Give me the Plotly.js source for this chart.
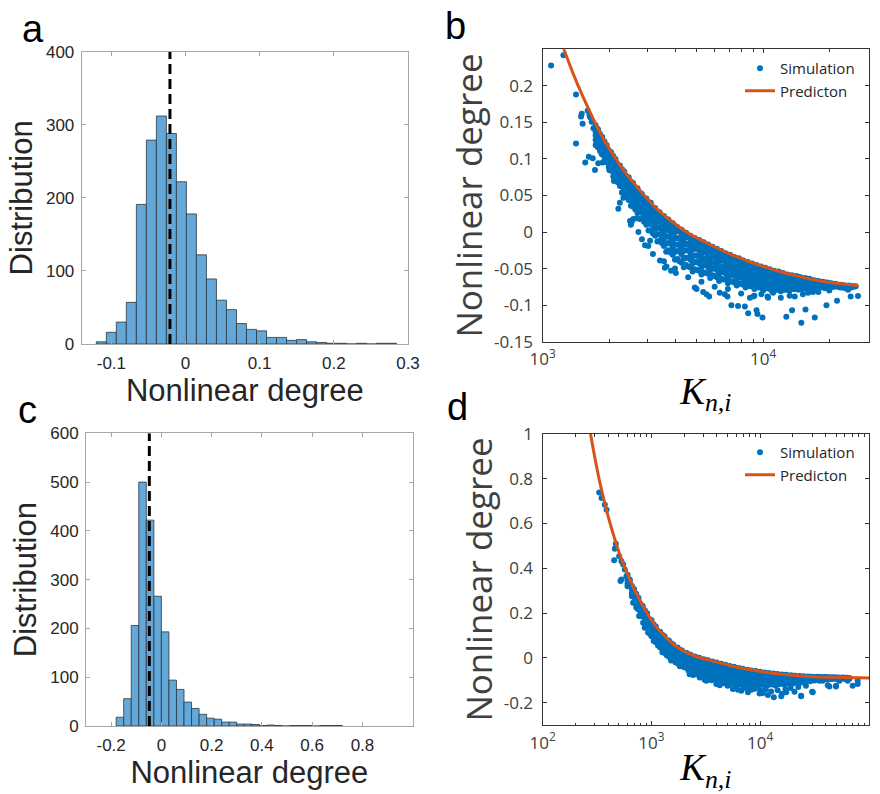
<!DOCTYPE html>
<html><head><meta charset="utf-8">
<script src="https://cdn.plot.ly/plotly-3.0.1.min.js"></script>
<style>html,body{margin:0;padding:0;background:#fff;} #chart{width:880px;height:794px;}</style>
</head><body><div id="chart"></div>
<script>
// ---------- Panel a : histogram ----------
const histA_start = -0.1203;
const histA_width = 0.0135;
const histA_counts = [3,16,30,57,191,279,312,288,222,178,122,89,60,47,28,20,18,9,9,5,6,3,2,1,1,0,1,0,1,1];
const meanA = -0.021;
const histA_xticks = [-0.1,0,0.1,0.2,0.3];
const histA_xticktext = ['-0.1','0','0.1','0.2','0.3'];

// ---------- Panel c : histogram ----------
const histC_start = -0.18;
const histC_width = 0.03;
const histC_counts = [18,56,206,500,422,266,193,94,75,49,36,24,16,14,8,8,4,4,3,1,2,1,0,1,1,1,0,1,1,1];
const meanC = -0.048;
const histC_xticks = [-0.2,0,0.2,0.4,0.6,0.8];
const histC_xticktext = ['-0.2','0','0.2','0.4','0.6','0.8'];

// ---------- Panel b : prediction (log10 K, value) ----------
const predB_log10K = [3.094,3.139,3.177,3.215,3.252,3.290,3.328,3.366,3.441,3.517,3.592,3.668,3.758,3.849,3.924,4.000,4.075,4.151,4.226,4.302,4.377,4.430];
const predB_val    = [0.252,0.216,0.189,0.164,0.141,0.120,0.102,0.085,0.057,0.032,0.013,-0.003,-0.017,-0.030,-0.039,-0.047,-0.054,-0.060,-0.065,-0.069,-0.0715,-0.0735];

// ---------- Panel b : simulation points, read column by column [log10K, values...] ----------
const simB_band = [
[3.24,[.146,.141,.137,.132,.126,.119]],[3.26,[.134,.128,.123,.118,.111]],
[3.28,[.124,.120,.115,.110,.104,.098]],[3.30,[.112,.106,.101,.096,.089]],
[3.32,[.104,.099,.094,.089,.083,.076]],[3.34,[.092,.086,.081,.075,.068]],
[3.36,[.086,.080,.075,.069,.062,.054]],[3.38,[.076,.069,.063,.057,.048]],
[3.40,[.069,.064,.058,.052,.044,.036]],[3.42,[.060,.053,.047,.040,.031]],
[3.44,[.054,.048,.042,.035,.027,.018]],[3.46,[.045,.038,.031,.023,.014]],
[3.48,[.041,.035,.028,.020,.012,.002]],[3.50,[.033,.024,.017,.009,-.002]],
[3.52,[.028,.021,.014,.006,-.003,-.013]],[3.54,[.020,.012,.004,-.005,-.015]],
[3.56,[.018,.010,.002,-.006,-.016,-.027]],[3.58,[.010,.001,-.008,-.016,-.028]],
[3.60,[.007,.000,-.008,-.017,-.027,-.038]],[3.62,[.001,-.009,-.018,-.027,-.040]],
[3.64,[-.001,-.009,-.017,-.026,-.037,-.048]],[3.66,[-.007,-.017,-.025,-.035,-.047]],
[3.68,[-.009,-.016,-.024,-.033,-.043,-.054]],[3.70,[-.014,-.023,-.032,-.041,-.052]],
[3.72,[-.014,-.022,-.030,-.038,-.048,-.058]],[3.74,[-.020,-.028,-.037,-.045,-.056]],
[3.76,[-.020,-.027,-.035,-.043,-.052,-.063]],[3.78,[-.026,-.034,-.042,-.050,-.060]],
[3.80,[-.026,-.033,-.040,-.048,-.057,-.067]],[3.82,[-.031,-.039,-.047,-.055,-.065]],
[3.84,[-.032,-.038,-.045,-.052,-.060,-.070]],[3.86,[-.036,-.044,-.051,-.058,-.068]],
[3.88,[-.037,-.043,-.049,-.056,-.064,-.073]],[3.90,[-.041,-.048,-.055,-.062,-.071]],
[3.92,[-.042,-.047,-.053,-.060,-.067,-.076]],[3.94,[-.045,-.052,-.058,-.065,-.074]],
[3.96,[-.046,-.051,-.057,-.063,-.070,-.078]],[3.98,[-.049,-.056,-.061,-.068,-.076]],
[4.00,[-.050,-.054,-.060,-.066,-.072,-.080]],[4.02,[-.053,-.059,-.064,-.070,-.077]],
[4.04,[-.053,-.058,-.063,-.068,-.074,-.081]],[4.06,[-.056,-.062,-.067,-.072,-.079]],
[4.08,[-.056,-.060,-.065,-.069,-.075,-.081]],[4.10,[-.059,-.064,-.068,-.073,-.079]],
[4.12,[-.060,-.063,-.067,-.071,-.075,-.080]],[4.14,[-.062,-.066,-.069,-.073,-.078]],
[4.16,[-.061,-.064,-.068,-.071,-.075,-.079]],[4.18,[-.064,-.067,-.070,-.074,-.078]],
[4.20,[-.064,-.067,-.069,-.072,-.075,-.078]],[4.22,[-.066,-.068,-.071,-.073,-.076]],
[4.24,[-.067,-.069,-.071,-.073,-.075,-.078]],[4.26,[-.068,-.070,-.072,-.074,-.076]],
[4.28,[-.069,-.070,-.071,-.073,-.075,-.077]],[4.30,[-.070,-.071,-.072,-.074,-.076]],
[4.32,[-.071,-.072,-.073,-.075]],[4.34,[-.072,-.073,-.075]],
[4.36,[-.073,-.074,-.076]],[4.38,[-.074,-.075]],[4.40,[-.074,-.076]]
];
const simB_band2 = [
[3.25,[.141,.138,.133,.128,.122,.116]],[3.27,[.130,.127,.122,.117,.112,.106]],[3.29,[.119,.116,.111,.106,.101,.095]],
[3.31,[.109,.106,.101,.096,.090,.084]],[3.33,[.100,.096,.091,.085,.080,.073]],[3.35,[.091,.087,.081,.075,.069,.063]],
[3.37,[.083,.078,.073,.066,.060,.053]],[3.39,[.075,.070,.064,.058,.051,.044]],[3.41,[.067,.062,.056,.049,.043,.035]],
[3.43,[.060,.055,.048,.041,.034,.026]],[3.45,[.052,.047,.040,.033,.026,.018]],[3.47,[.046,.040,.034,.026,.018,.010]],
[3.49,[.040,.034,.027,.019,.011,.002]],[3.51,[.033,.027,.020,.012,.004,-.005]],[3.53,[.027,.021,.014,.006,-.003,-.012]],
[3.55,[.022,.016,.008,.000,-.009,-.019]],[3.57,[.017,.011,.003,-.006,-.015,-.025]],[3.59,[.012,.005,-.003,-.012,-.021,-.031]],
[3.61,[.007,.001,-.008,-.017,-.026,-.037]],[3.63,[.003,-.003,-.012,-.022,-.031,-.042]],[3.65,[-.001,-.007,-.016,-.025,-.035,-.045]],
[3.67,[-.005,-.011,-.019,-.029,-.038,-.048]],[3.69,[-.008,-.015,-.023,-.032,-.041,-.051]],[3.71,[-.011,-.018,-.025,-.034,-.043,-.053]],
[3.73,[-.014,-.020,-.028,-.037,-.045,-.055]],[3.75,[-.017,-.023,-.031,-.039,-.048,-.057]],[3.77,[-.020,-.026,-.033,-.042,-.050,-.059]],
[3.79,[-.023,-.029,-.036,-.044,-.052,-.062]],[3.81,[-.026,-.032,-.039,-.047,-.055,-.064]],[3.83,[-.029,-.034,-.041,-.049,-.057,-.065]],
[3.85,[-.031,-.037,-.043,-.051,-.059,-.067]],[3.87,[-.034,-.039,-.046,-.053,-.060,-.069]],[3.89,[-.036,-.041,-.048,-.055,-.062,-.070]],
[3.91,[-.039,-.044,-.050,-.057,-.064,-.072]],[3.93,[-.041,-.046,-.052,-.059,-.066,-.073]],[3.95,[-.043,-.048,-.054,-.060,-.067,-.074]],
[3.97,[-.045,-.050,-.055,-.062,-.068,-.075]],[3.99,[-.047,-.052,-.057,-.063,-.069,-.076]],[4.01,[-.049,-.053,-.059,-.065,-.070,-.077]],
[4.03,[-.051,-.055,-.060,-.066,-.071,-.078]],[4.05,[-.053,-.057,-.062,-.067,-.072,-.078]],[4.07,[-.054,-.058,-.063,-.068,-.073,-.079]],
[4.09,[-.056,-.059,-.064,-.069,-.073,-.079]],[4.11,[-.058,-.061,-.065,-.069,-.074,-.079]],[4.13,[-.059,-.062,-.066,-.070,-.074,-.078]],
[4.15,[-.060,-.063,-.066,-.070,-.074,-.078]],[4.17,[-.062,-.064,-.067,-.071,-.074,-.078]],[4.19,[-.063,-.065,-.068,-.071,-.074,-.077]],
[4.21,[-.064,-.066,-.068,-.071,-.074,-.077]],[4.23,[-.066,-.067,-.069,-.072,-.074,-.076]],[4.25,[-.067,-.068,-.070,-.072]],
[4.27,[-.068,-.069,-.071,-.073]],[4.29,[-.069,-.070,-.072]],[4.31,[-.070,-.071,-.073]],
[4.33,[-.071,-.072,-.074]],[4.35,[-.072,-.073]],[4.37,[-.073,-.074]],[4.39,[-.073,-.075]],
[4.41,[-.074,-.075]],[4.42,[-.074]]
];
const simB_sparse = [
[3.038,0.228],[3.094,0.242],[3.151,0.188],[3.151,0.121],[3.177,0.162],[3.174,0.158],[3.181,0.148],
[3.204,0.166],[3.212,0.160],[3.215,0.157],[3.222,0.151],[3.230,0.142],[3.193,0.095],[3.209,0.103],
[3.227,0.101],[3.237,0.085],[3.252,0.138],[3.263,0.131],[3.242,0.119],[3.260,0.120],[3.275,0.121],
[3.252,0.094],[3.272,0.095],[3.267,0.107],[3.283,0.111],[3.290,0.113],[3.302,0.085],[3.305,0.100],
[3.317,0.095],[3.328,0.091],[3.323,0.070],[3.343,0.032],[3.360,0.054],[3.366,0.047],[3.380,0.070],
[3.388,0.061],[3.396,0.015],[3.404,0.014],[3.411,0.018],[3.426,0.019],[3.434,0.000],[3.464,-0.018],
[3.479,-0.019],[3.487,-0.012],[3.532,-0.039],[3.554,-0.049],[3.561,-0.047],[3.582,-0.053],[3.604,-0.056],
[3.690,-0.076],[3.698,-0.078],[3.728,-0.082],[3.743,-0.085],[3.755,-0.088],[3.803,-0.083],[3.826,-0.085],
[3.838,-0.088],[3.856,-0.100],[3.886,-0.101],[3.917,-0.102],[3.932,-0.111],[3.970,-0.107],[3.974,-0.112],
[3.997,-0.117],[3.940,-0.090],[3.955,-0.088],[3.992,-0.085],[4.022,-0.090],[4.045,-0.083],[4.105,-0.116],
[4.131,-0.107],[4.143,-0.088],[4.173,-0.124],[4.192,-0.106],[4.204,-0.083],[4.226,-0.082],[4.234,-0.117],
[4.287,-0.100],[4.335,-0.094],[4.373,-0.077],[4.385,-0.079],[4.397,-0.088],[4.430,-0.0875],[4.255,-0.075],
[4.278,-0.075],[4.301,-0.076],[4.316,-0.075],[4.350,-0.076],[4.360,-0.073],
[3.66,-0.062],[3.72,-0.068],[3.78,-0.075],[3.84,-0.078],[3.90,-0.084],[3.96,-0.087],[4.02,-0.088],
[4.08,-0.090],[4.12,-0.087],[4.18,-0.085],[4.25,-0.082],[4.30,-0.080],[3.60,-0.050],[3.55,-0.040],
[3.50,-0.030],[3.45,-0.010],[3.40,0.010],[3.35,0.040]
];

// ---------- Panel d : prediction ----------
const predD_log10K = [2.440,2.480,2.525,2.571,2.617,2.663,2.709,2.770,2.831,2.892,2.954,3.030,3.107,3.198,3.290,3.412,3.565,3.720,3.872,4.020,4.177,4.330,4.483,4.700,5.000];
const predD_val    = [1.000,0.893,0.785,0.690,0.605,0.530,0.462,0.385,0.318,0.259,0.205,0.148,0.104,0.062,0.032,0.006,-0.014,-0.034,-0.050,-0.062,-0.072,-0.079,-0.084,-0.087,-0.090];

// ---------- Panel d : simulation points ----------
const simD_band = [
[2.78,[.371,.358,.344,.331,.320]],[2.82,[.321,.305,.289,.275]],
[2.86,[.286,.270,.254,.238,.225]],[2.90,[.241,.222,.203,.186]],
[2.94,[.212,.194,.175,.155,.140]],[2.98,[.173,.151,.131,.111]],
[3.02,[.150,.131,.111,.091,.075]],[3.06,[.118,.096,.074,.055]],
[3.10,[.103,.083,.062,.042,.025]],[3.14,[.076,.053,.032,.012]],
[3.18,[.065,.045,.025,.004,-.012]],[3.22,[.043,.021,.000,-.020]],
[3.26,[.036,.017,-.002,-.022,-.038]],[3.30,[.018,-.003,-.023,-.042]],
[3.34,[.016,-.002,-.021,-.041,-.056]],[3.38,[.001,-.020,-.040,-.058]],
[3.42,[.000,-.018,-.037,-.056,-.071]],[3.46,[-.013,-.033,-.053,-.072]],
[3.50,[-.011,-.029,-.049,-.068,-.084]],[3.54,[-.023,-.044,-.065,-.084]],
[3.58,[-.021,-.040,-.059,-.079,-.095]],[3.62,[-.033,-.054,-.075,-.094]],
[3.66,[-.031,-.050,-.069,-.089,-.105]],[3.70,[-.043,-.064,-.084,-.103]],
[3.74,[-.041,-.059,-.078,-.098,-.113]],[3.78,[-.051,-.072,-.092,-.110]],
[3.82,[-.049,-.067,-.086,-.104,-.119]],[3.86,[-.060,-.079,-.098,-.115]],
[3.90,[-.056,-.073,-.091,-.109,-.123]],[3.94,[-.065,-.084,-.102,-.118]],
[3.98,[-.063,-.079,-.095,-.112,-.125]],[4.02,[-.071,-.088,-.105,-.120]],
[4.06,[-.069,-.083,-.098,-.113,-.125]],[4.10,[-.076,-.091,-.106,-.119]],
[4.14,[-.073,-.086,-.099,-.112,-.123]],[4.18,[-.079,-.093,-.105,-.117]],
[4.22,[-.077,-.088,-.099,-.110,-.119]],[4.26,[-.082,-.093,-.104,-.114]],
[4.30,[-.080,-.089,-.098,-.108,-.115]],[4.34,[-.084,-.093,-.101,-.109]],
[4.38,[-.083,-.090,-.097,-.104,-.110]],[4.42,[-.086,-.093,-.099,-.105]],
[4.46,[-.084,-.090,-.095,-.100,-.105]],[4.50,[-.087,-.092,-.096,-.101]],
[4.54,[-.086,-.089,-.093,-.097,-.100]],[4.58,[-.087,-.091,-.094,-.097]],
[4.62,[-.087,-.090,-.092,-.095,-.097]],[4.66,[-.088,-.090,-.093,-.095]],
[4.70,[-.088,-.090,-.093,-.095]],[4.74,[-.089,-.092,-.094]],
[4.78,[-.089,-.092,-.094]],[4.82,[-.090,-.093]]
];
const simD_band2 = [
[2.80,[.350,.342,.331,.321]],[2.84,[.308,.299,.287,.276]],[2.88,[.269,.259,.246,.233]],
[2.92,[.232,.221,.208,.194]],[2.96,[.199,.187,.173,.158]],[3.00,[.168,.156,.141,.126,.112,.098]],
[3.04,[.140,.128,.113,.098,.084,.070]],[3.08,[.117,.104,.089,.074,.060,.046]],[3.12,[.096,.083,.068,.052,.038,.023]],
[3.16,[.077,.064,.049,.034,.020,.005]],[3.20,[.060,.048,.033,.018,.004,-.011]],[3.24,[.046,.034,.019,.004,-.010,-.024]],
[3.28,[.033,.021,.007,-.008,-.021,-.035]],[3.32,[.023,.012,-.002,-.017,-.030,-.044]],[3.36,[.014,.003,-.011,-.026,-.039,-.052]],
[3.40,[.006,-.005,-.019,-.033,-.046,-.060]],[3.44,[.000,-.012,-.026,-.040,-.053,-.067]],[3.48,[-.006,-.017,-.031,-.046,-.059,-.073]],
[3.52,[-.011,-.023,-.037,-.052,-.065,-.079]],[3.56,[-.016,-.028,-.042,-.057,-.070,-.085]],[3.60,[-.021,-.033,-.047,-.062,-.075,-.090]],
[3.64,[-.026,-.038,-.052,-.067,-.080,-.095]],[3.68,[-.031,-.043,-.057,-.072,-.085,-.099]],[3.72,[-.036,-.047,-.061,-.076,-.089,-.103]],
[3.76,[-.040,-.052,-.066,-.080,-.093,-.107]],[3.80,[-.045,-.056,-.070,-.084,-.097,-.110]],[3.84,[-.049,-.060,-.073,-.087,-.100,-.113]],
[3.88,[-.053,-.063,-.076,-.090,-.102,-.115]],[3.92,[-.056,-.066,-.079,-.092,-.104,-.117]],[3.96,[-.059,-.069,-.081,-.094,-.106,-.118]],
[4.00,[-.062,-.072,-.084,-.096,-.107,-.119]],[4.04,[-.065,-.075,-.086,-.097,-.108,-.119]],[4.08,[-.068,-.077,-.087,-.098,-.108,-.119]],
[4.12,[-.070,-.078,-.088,-.099,-.108,-.118]],[4.16,[-.072,-.080,-.089,-.099,-.108,-.117]],[4.20,[-.074,-.081,-.090,-.099,-.107,-.115]],
[4.24,[-.076,-.083,-.090,-.099,-.106,-.114]],[4.28,[-.078,-.084,-.091,-.098,-.105,-.112]],[4.32,[-.080,-.085,-.091,-.098,-.104,-.110]],
[4.36,[-.081,-.086,-.091,-.097,-.102,-.108]],[4.40,[-.082,-.086,-.091,-.096,-.101,-.106]],[4.44,[-.083,-.087,-.091,-.095]],
[4.48,[-.084,-.087,-.090,-.094]],[4.52,[-.085,-.088,-.091]],[4.56,[-.086,-.088,-.091]],
[4.60,[-.086,-.088,-.091]],[4.64,[-.087,-.089]],[4.68,[-.087,-.089]],[4.72,[-.088,-.090]],
[4.76,[-.088,-.090]],[4.80,[-.089,-.091]]
];
const simD_sparse = [
[2.519,0.739],[2.541,0.714],[2.571,0.684],[2.587,0.662],[2.672,0.510],[2.663,0.487],[2.657,0.436],
[2.703,0.454],[2.724,0.432],[2.740,0.417],[2.755,0.395],[2.715,0.343],[2.724,0.350],[2.770,0.365],
[2.785,0.343],[2.801,0.328],[2.831,0.246],[2.847,0.254],[2.877,0.217],[2.886,0.187],[2.908,0.209],
[2.923,0.157],[2.938,0.135],[2.969,0.113],[3.000,0.098],[3.076,0.056],[3.091,0.053],[3.131,0.021],
[3.259,-0.028],[3.275,-0.033],[3.351,-0.073],[3.382,-0.077],[3.443,-0.088],[3.489,-0.098],
[3.291,-0.033],[3.367,-0.058],[3.398,-0.073],[3.459,-0.087],[3.505,-0.102],[3.596,-0.117],[3.627,-0.122],
[3.658,-0.113],[3.749,-0.139],[3.795,-0.142],[3.826,-0.147],[3.887,-0.154],[3.918,-0.142],[3.994,-0.159],
[4.024,-0.157],[4.070,-0.166],[4.125,-0.176],[4.193,-0.172],[4.232,-0.139],[4.239,-0.154],[4.315,-0.151],
[4.376,-0.172],[4.477,-0.151],[4.575,-0.102],[4.636,-0.128],[4.697,-0.128],[4.728,-0.102],[4.804,-0.102],
[4.850,-0.125],[4.896,-0.102],[4.896,-0.117],[4.804,-0.095],[4.697,-0.125],[4.621,-0.122],[4.544,-0.102],
[4.483,-0.154],[4.376,-0.169],
[3.70,-0.125],[3.72,-0.118],[3.78,-0.128],[3.85,-0.135],[3.90,-0.140],[3.95,-0.138],[4.00,-0.145],
[4.05,-0.140],[4.10,-0.150],[4.16,-0.145],[4.20,-0.160],[4.28,-0.135],[4.35,-0.130],[4.42,-0.125],
[3.60,-0.108],[3.55,-0.100],[3.45,-0.082],[3.40,-0.068]
];

// ---------- helpers ----------
function flatten(bands, sparse){
  const xs=[], ys=[];
  bands.forEach(band => band.forEach(([L, vals]) => vals.forEach(v => { xs.push(Math.pow(10, L)); ys.push(v); })));
  sparse.forEach(([L, v]) => { xs.push(Math.pow(10, L)); ys.push(v); });
  return {xs, ys};
}
const toK = arr => arr.map(L => Math.pow(10, L));
const centers = (start, w, n) => Array.from({length:n}, (_, i) => start + w*(i+0.5));

const simB = flatten([simB_band, simB_band2], simB_sparse);
const simD = flatten([simD_band, simD_band2], simD_sparse);

const BLUE = '#0072BD', ORANGE = '#D95319', HIST = '#63A8D8';

const traces = [
  {type:'bar', x:centers(histA_start, histA_width, histA_counts.length), y:histA_counts, width:histA_width,
   marker:{color:HIST, line:{color:'#2b3640', width:0.8}}, xaxis:'x', yaxis:'y', showlegend:false, hoverinfo:'skip'},
  {type:'scatter', mode:'lines', x:[meanA, meanA], y:[0, 400], line:{color:'#000', width:3, dash:'10px,5px'},
   xaxis:'x', yaxis:'y', showlegend:false},
  {type:'scatter', mode:'markers', name:'Simulation', x:simB.xs, y:simB.ys, marker:{color:BLUE, size:6},
   xaxis:'x2', yaxis:'y2', legend:'legend'},
  {type:'scatter', mode:'lines', name:'Predicton', x:toK(predB_log10K), y:predB_val, line:{color:ORANGE, width:3, shape:'spline'},
   xaxis:'x2', yaxis:'y2', legend:'legend'},
  {type:'bar', x:centers(histC_start, histC_width, histC_counts.length), y:histC_counts, width:histC_width,
   marker:{color:HIST, line:{color:'#2b3640', width:0.8}}, xaxis:'x3', yaxis:'y3', showlegend:false, hoverinfo:'skip'},
  {type:'scatter', mode:'lines', x:[meanC, meanC], y:[0, 600], line:{color:'#000', width:3, dash:'10px,5px'},
   xaxis:'x3', yaxis:'y3', showlegend:false},
  {type:'scatter', mode:'markers', name:'Simulation', x:simD.xs, y:simD.ys, marker:{color:BLUE, size:6},
   xaxis:'x4', yaxis:'y4', legend:'legend2'},
  {type:'scatter', mode:'lines', name:'Predicton', x:toK(predD_log10K), y:predD_val, line:{color:ORANGE, width:3, shape:'spline'},
   xaxis:'x4', yaxis:'y4', legend:'legend2'}
];

const W = 880, H = 794;
const px = v => v / W, py = v => 1 - v / H;

const histTick = {family:'Liberation Sans, Arial, sans-serif', size:17, color:'#262626'};
const histTitle = {family:'Liberation Sans, Arial, sans-serif', size:31, color:'#262626'};
const scTick = {family:'Open Sans, sans-serif', size:17, color:'#404040'};
const scTitle = {family:'Open Sans, sans-serif', size:35, color:'#404040'};
const kTitle = {family:'Liberation Serif, DejaVu Serif, serif', size:37, color:'#000'};

const histAxis = {showline:true, mirror:'ticks', linecolor:'#a6a6a6', linewidth:1, ticks:'inside', ticklen:4,
  tickcolor:'#a6a6a6', showgrid:false, zeroline:false, tickfont:histTick, fixedrange:true};
const scAxis = {showline:true, mirror:'ticks', linecolor:'#333', linewidth:1.2, ticks:'inside', ticklen:4,
  tickcolor:'#333', showgrid:false, zeroline:false, tickfont:scTick, fixedrange:true};

const minorB = [2000,3000,4000,5000,6000,7000,8000,9000,20000,30000];
const minorD = [200,300,400,500,600,700,800,900,2000,3000,4000,5000,6000,7000,8000,9000,20000,30000,40000,50000,60000,70000,80000,90000];

const layout = {
  width:W, height:H, margin:{l:0,r:0,t:0,b:0}, paper_bgcolor:'#fff', plot_bgcolor:'#fff',
  xaxis:Object.assign({}, histAxis, {domain:[px(81.7), px(408)], range:[-0.14, 0.3], anchor:'y',
    tickvals:histA_xticks, ticktext:histA_xticktext, ticklabelstandoff:4,
    title:{text:'Nonlinear degree', font:histTitle, standoff:6}}),
  yaxis:Object.assign({}, histAxis, {domain:[py(344), py(51.7)], range:[0, 400], anchor:'x', dtick:100,
    ticklabelstandoff:3, title:{text:'Distribution', font:histTitle, standoff:4}}),
  xaxis2:Object.assign({}, scAxis, {domain:[px(542.7), px(869)], type:'log', range:[3, 4.48], anchor:'y2',
    tickvals:[1000,10000], ticktext:['10<sup>3</sup>','10<sup>4</sup>'], ticklabelstandoff:2,
    minor:{tickmode:'array', tickvals:minorB, ticks:'inside', ticklen:2.5, tickcolor:'#333'},
    title:{text:'<i>K</i><sub><i>n,i</i></sub>', font:kTitle, standoff:8}}),
  yaxis2:Object.assign({}, scAxis, {domain:[py(341.7), py(49.3)], range:[-0.15, 0.25], anchor:'x2',
    tickvals:[-0.15,-0.1,-0.05,0,0.05,0.1,0.15,0.2], ticktext:['-0.15','-0.1','-0.05','0','0.05','0.1','0.15','0.2'],
    ticklabelstandoff:5, title:{text:'Nonlinear degree', font:scTitle, standoff:0}}),
  xaxis3:Object.assign({}, histAxis, {domain:[px(86), px(412.7)], range:[-0.3, 1.0], anchor:'y3',
    tickvals:histC_xticks, ticktext:histC_xticktext, ticklabelstandoff:4,
    title:{text:'Nonlinear degree', font:histTitle, standoff:6}}),
  yaxis3:Object.assign({}, histAxis, {domain:[py(726), py(433.3)], range:[0, 600], anchor:'x3', dtick:100,
    ticklabelstandoff:3, title:{text:'Distribution', font:histTitle, standoff:4}}),
  xaxis4:Object.assign({}, scAxis, {domain:[px(542.7), px(869)], type:'log', range:[2, 5], anchor:'y4',
    tickvals:[100,1000,10000,100000], ticktext:['10<sup>2</sup>','10<sup>3</sup>','10<sup>4</sup>','10<sup>5</sup>'], ticklabelstandoff:2,
    minor:{tickmode:'array', tickvals:minorD, ticks:'inside', ticklen:2.5, tickcolor:'#333'},
    title:{text:'<i>K</i><sub><i>n,i</i></sub>', font:kTitle, standoff:8}}),
  yaxis4:Object.assign({}, scAxis, {domain:[py(725), py(434)], range:[-0.3, 1.0], anchor:'x4',
    tickvals:[-0.2,0,0.2,0.4,0.6,0.8,1], ticktext:['-0.2','0','0.2','0.4','0.6','0.8','1'],
    ticklabelstandoff:5, title:{text:'Nonlinear degree', font:scTitle, standoff:0}}),
  legend:{x:px(740), xanchor:'left', y:py(52), yanchor:'top', bgcolor:'rgba(0,0,0,0)', borderwidth:0,
    font:{family:'Open Sans, sans-serif', size:15, color:'#262626'}, tracegroupgap:0, itemwidth:30},
  legend2:{x:px(740), xanchor:'left', y:py(436), yanchor:'top', bgcolor:'rgba(0,0,0,0)', borderwidth:0,
    font:{family:'Open Sans, sans-serif', size:15, color:'#262626'}, tracegroupgap:0, itemwidth:30},
  annotations:[
    {text:'a', x:px(20), y:py(29), xref:'paper', yref:'paper', xanchor:'left', yanchor:'middle', showarrow:false, font:{family:'Liberation Sans, Arial, sans-serif', size:38, color:'#000'}},
    {text:'b', x:px(443), y:py(26), xref:'paper', yref:'paper', xanchor:'left', yanchor:'middle', showarrow:false, font:{family:'Liberation Sans, Arial, sans-serif', size:38, color:'#000'}},
    {text:'c', x:px(16), y:py(410), xref:'paper', yref:'paper', xanchor:'left', yanchor:'middle', showarrow:false, font:{family:'Liberation Sans, Arial, sans-serif', size:38, color:'#000'}},
    {text:'d', x:px(445), y:py(407), xref:'paper', yref:'paper', xanchor:'left', yanchor:'middle', showarrow:false, font:{family:'Liberation Sans, Arial, sans-serif', size:38, color:'#000'}}
  ],
  hovermode:false
};

Plotly.newPlot('chart', traces, layout, {displayModeBar:false, staticPlot:true});
</script></body></html>
